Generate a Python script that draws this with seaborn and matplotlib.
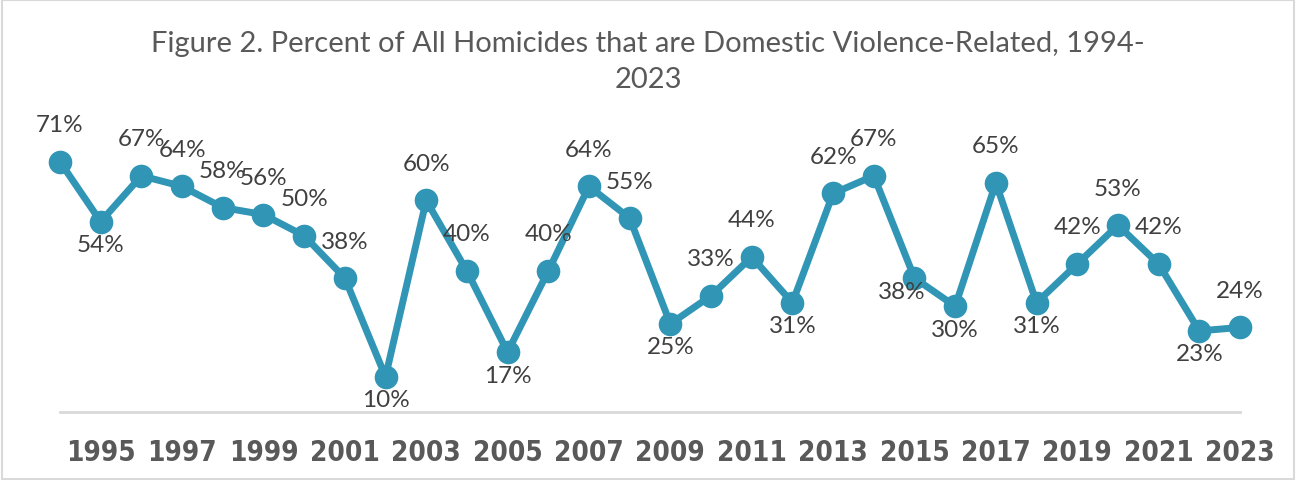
import matplotlib
matplotlib.use("Agg")
import matplotlib.pyplot as plt
import seaborn as sns
import pandas as pd
from matplotlib.patches import Rectangle

# Data
years = list(range(1994, 2024))
pct = [71, 54, 67, 64, 58, 56, 50, 38, 10, 60,
       40, 17, 40, 64, 55, 25, 33, 44, 31, 62,
       67, 38, 30, 65, 31, 42, 53, 42, 23, 24]
tick_years = list(range(1995, 2024, 2))
title = "Figure 2. Percent of All Homicides that are Domestic Violence-Related, 1994-\n2023"

# label placement: a = above, b = below, bl = below-left
placement = ['a', 'b', 'a', 'a', 'a', 'a', 'a', 'a', 'b', 'a',
             'a', 'b', 'a', 'a', 'a', 'b', 'a', 'a', 'b', 'a',
             'a', 'bl', 'b', 'a', 'b', 'a', 'a', 'a', 'b', 'a']

LINE_COLOR = '#3196b6'
TEXT_COLOR = '#404040'
AXIS_COLOR = '#d9d9d9'

sns.set_style('white')
plt.rcParams['font.family'] = ['Lato', 'DejaVu Sans']

df = pd.DataFrame({'year': years, 'pct': pct})

fig = plt.figure(figsize=(12.96, 4.81), dpi=100)
ax = fig.add_axes([60 / 1296, 68 / 481, 1180 / 1296, 282 / 481])

sns.lineplot(data=df, x='year', y='pct', ax=ax, color=LINE_COLOR, linewidth=5,
             marker='o', markersize=17, markeredgewidth=0, clip_on=False)

px = 0.72  # points per pixel at 100 dpi
for x, y, p in zip(years, pct, placement):
    if p == 'a':
        off = (0, 37 * px)
    elif p == 'b':
        off = (0, -23 * px)
    else:
        off = (-13 * px, -13 * px)
    ax.annotate(f'{y}%', (x, y), xytext=off, textcoords='offset points',
                ha='center', va='center', fontsize=17.5, color=TEXT_COLOR,
                annotation_clip=False)

ax.set_xlim(1994, 2023)
ax.set_ylim(0, 80)
ax.set_xticks(tick_years)
ax.set_xticklabels([str(t) for t in tick_years], fontsize=20, fontweight='bold',
                   fontstretch='condensed', color='#595959',
                   family=['DejaVu Sans'])
ax.tick_params(axis='x', length=0, pad=19)
ax.set_yticks([])
ax.set_xlabel('')
ax.set_ylabel('')
for s in ['top', 'right', 'left']:
    ax.spines[s].set_visible(False)
ax.spines['bottom'].set_color(AXIS_COLOR)
ax.spines['bottom'].set_linewidth(2)

fig.text(0.5, 1 - 62 / 481, title, ha='center', va='center', fontsize=21,
         color='#595959', linespacing=1.5)

fig.patches.append(Rectangle((0.0015, 0.002), 0.997, 0.995, transform=fig.transFigure,
                             fill=False, edgecolor=AXIS_COLOR, linewidth=1.5))

fig.savefig('out.png', dpi=100)
